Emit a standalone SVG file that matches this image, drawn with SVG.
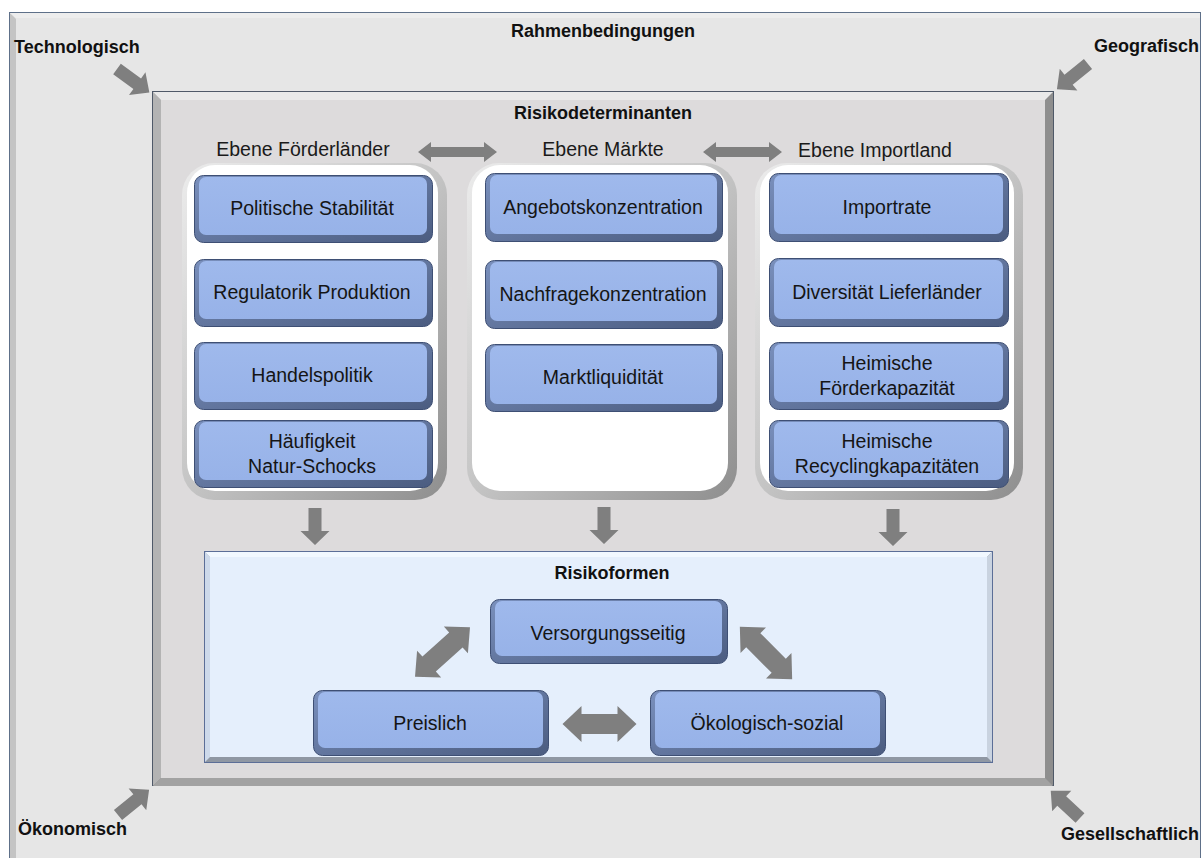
<svg xmlns="http://www.w3.org/2000/svg" width="1202" height="858" viewBox="0 0 1202 858">
  <style>
    .lbl { font-family: "Liberation Sans", Arial, sans-serif; font-size: 18px; font-weight: bold; fill: #111; }
    .lvl { font-family: "Liberation Sans", Arial, sans-serif; font-size: 19.5px; fill: #1a1a1a; text-anchor: middle; }
    .bt { font-family: "Liberation Sans", Arial, sans-serif; font-size: 19.5px; fill: #151515; text-anchor: middle; }
    .arr { fill: #7f7f7f; }
    .bbase { fill: url(#bbaseG); stroke: #3e4f74; stroke-width: 1; }
    .bface { fill: url(#bfaceG); }
    .crim { fill: url(#crimG); }
    .cface { fill: #ffffff; }
  </style>
  <defs>
    <linearGradient id="bbaseG" x1="0" y1="0" x2="1" y2="1">
      <stop offset="0" stop-color="#7a90bd"/>
      <stop offset="1" stop-color="#4b5c80"/>
    </linearGradient>
    <linearGradient id="bfaceG" x1="0" y1="0" x2="0" y2="1">
      <stop offset="0" stop-color="#9fb9ec"/>
      <stop offset="1" stop-color="#97b2e8"/>
    </linearGradient>
    <linearGradient id="crimG" x1="0" y1="0" x2="1" y2="1">
      <stop offset="0" stop-color="#ececec"/>
      <stop offset="0.5" stop-color="#c4c4c4"/>
      <stop offset="1" stop-color="#8e8e8e"/>
    </linearGradient>
  </defs>

  <!-- Outer frame: Rahmenbedingungen -->
  <g id="rahmen">
    <rect x="9.5" y="12.5" width="1191" height="860" fill="#e6e6e6" stroke="#5e7089" stroke-width="1"/>
    <polygon points="10,13 16,19 16,858 10,858" fill="#c4c4c4"/>
    <polygon points="10,13 1200,13 1200,18 16,18" fill="#ededed"/>
    <text class="lbl" x="603" y="37" text-anchor="middle">Rahmenbedingungen</text>
    <text class="lbl" x="14" y="53">Technologisch</text>
    <text class="lbl" x="1199" y="52" text-anchor="end">Geografisch</text>
    <text class="lbl" x="18" y="835">Ökonomisch</text>
    <text class="lbl" x="1199" y="840" text-anchor="end">Gesellschaftlich</text>
  </g>

  <!-- Inner frame: Risikodeterminanten -->
  <g id="risikodeterminanten">
    <rect x="152.5" y="91.5" width="901" height="694" fill="#8e8e8e" stroke="#4f5968" stroke-width="1"/>
    <polygon points="153,92 161,100 161,778 153,786" fill="#b3b3b3"/>
    <polygon points="153,92 1053,92 1045,100 161,100" fill="#e9e9e9"/>
    <polygon points="153,786 161,778 1045,778 1053,786" fill="#a2a2a2"/>
    <rect x="161" y="100" width="884" height="678" fill="#dddbdc"/>
    <text class="lbl" x="603" y="119" text-anchor="middle">Risikodeterminanten</text>
  </g>

  <!-- Column containers -->
  <g id="ebene-foerderlaender">
    <rect class="crim" x="182" y="163" width="265" height="337" rx="32"/>
    <rect class="cface" x="187" y="165" width="251" height="326" rx="28"/>
    <text class="lvl" x="303" y="156">Ebene Förderländer</text>
  </g>
  <g id="ebene-maerkte">
    <rect class="crim" x="467" y="163" width="270" height="337" rx="32"/>
    <rect class="cface" x="472" y="165" width="256" height="326" rx="28"/>
    <text class="lvl" x="603" y="156">Ebene Märkte</text>
  </g>
  <g id="ebene-importland">
    <rect class="crim" x="755" y="163" width="268" height="337" rx="32"/>
    <rect class="cface" x="760" y="165" width="254" height="326" rx="28"/>
    <text class="lvl" x="875" y="157">Ebene Importland</text>
  </g>

  <!-- Left column boxes -->
  <g id="politische-stabilitaet">
    <rect class="bbase" x="194.5" y="175.5" width="238" height="67" rx="9"/>
    <rect class="bface" x="199" y="177" width="228" height="58" rx="7"/>
    <text class="bt" x="312" y="215">Politische Stabilität</text>
  </g>
  <g id="regulatorik-produktion">
    <rect class="bbase" x="194.5" y="259.5" width="238" height="67" rx="9"/>
    <rect class="bface" x="199" y="261" width="228" height="58" rx="7"/>
    <text class="bt" x="312" y="299">Regulatorik Produktion</text>
  </g>
  <g id="handelspolitik">
    <rect class="bbase" x="194.5" y="342.5" width="238" height="67" rx="9"/>
    <rect class="bface" x="199" y="344" width="228" height="58" rx="7"/>
    <text class="bt" x="312" y="382">Handelspolitik</text>
  </g>
  <g id="haeufigkeit-natur-schocks">
    <rect class="bbase" x="194.5" y="420.5" width="238" height="67" rx="9"/>
    <rect class="bface" x="199" y="422" width="228" height="58" rx="7"/>
    <text class="bt" x="312" y="448">Häufigkeit</text>
    <text class="bt" x="312" y="473">Natur-Schocks</text>
  </g>

  <!-- Middle column boxes -->
  <g id="angebotskonzentration">
    <rect class="bbase" x="485.5" y="173.5" width="237" height="68" rx="9"/>
    <rect class="bface" x="490" y="175" width="227" height="59" rx="7"/>
    <text class="bt" x="603" y="214">Angebotskonzentration</text>
  </g>
  <g id="nachfragekonzentration">
    <rect class="bbase" x="485.5" y="260.5" width="237" height="68" rx="9"/>
    <rect class="bface" x="490" y="262" width="227" height="59" rx="7"/>
    <text class="bt" x="603" y="301">Nachfragekonzentration</text>
  </g>
  <g id="marktliquiditaet">
    <rect class="bbase" x="485.5" y="344.5" width="237" height="67" rx="9"/>
    <rect class="bface" x="490" y="346" width="227" height="58" rx="7"/>
    <text class="bt" x="603" y="384">Marktliquidität</text>
  </g>

  <!-- Right column boxes -->
  <g id="importrate">
    <rect class="bbase" x="769.5" y="173.5" width="239" height="68" rx="9"/>
    <rect class="bface" x="774" y="175" width="229" height="59" rx="7"/>
    <text class="bt" x="887" y="214">Importrate</text>
  </g>
  <g id="diversitaet-lieferlaender">
    <rect class="bbase" x="769.5" y="258.5" width="239" height="68" rx="9"/>
    <rect class="bface" x="774" y="260" width="229" height="59" rx="7"/>
    <text class="bt" x="887" y="299">Diversität Lieferländer</text>
  </g>
  <g id="heimische-foerderkapazitaet">
    <rect class="bbase" x="769.5" y="342.5" width="239" height="67" rx="9"/>
    <rect class="bface" x="774" y="344" width="229" height="58" rx="7"/>
    <text class="bt" x="887" y="370">Heimische</text>
    <text class="bt" x="887" y="395">Förderkapazität</text>
  </g>
  <g id="heimische-recyclingkapazitaeten">
    <rect class="bbase" x="769.5" y="420.5" width="239" height="67" rx="9"/>
    <rect class="bface" x="774" y="422" width="229" height="58" rx="7"/>
    <text class="bt" x="887" y="448">Heimische</text>
    <text class="bt" x="887" y="473">Recyclingkapazitäten</text>
  </g>

  <!-- Risikoformen -->
  <g id="risikoformen">
    <rect x="204.5" y="551.5" width="788" height="211" fill="#8f97a3" stroke="#5b6e97" stroke-width="1"/>
    <polygon points="205,552 210,557 210,757 205,762" fill="#cdd9ea"/>
    <polygon points="205,552 992,552 987,557 210,557" fill="#f1f8ff"/>
    <polygon points="992,552 992,762 987,757 987,557" fill="#c9d3e0"/>
    <rect x="210" y="557" width="777" height="200" fill="#e5effc"/>
    <text class="lbl" x="612" y="579" text-anchor="middle">Risikoformen</text>
  </g>
  <g id="versorgungsseitig">
    <rect class="bbase" x="490.5" y="599.5" width="237" height="64" rx="9"/>
    <rect class="bface" x="495" y="601" width="227" height="55" rx="7"/>
    <text class="bt" x="608" y="640">Versorgungsseitig</text>
  </g>
  <g id="preislich">
    <rect class="bbase" x="313.5" y="690.5" width="235" height="65" rx="9"/>
    <rect class="bface" x="318" y="692" width="225" height="56" rx="7"/>
    <text class="bt" x="430" y="730">Preislich</text>
  </g>
  <g id="oekologisch-sozial">
    <rect class="bbase" x="650.5" y="690.5" width="235" height="65" rx="9"/>
    <rect class="bface" x="655" y="692" width="225" height="56" rx="7"/>
    <text class="bt" x="767" y="730">Ökologisch-sozial</text>
  </g>

  <!-- Connectors -->
  <g id="connectors">
    <polygon class="arr" transform="translate(457.5,152)" points="-39.5,0 -26.5,-10 -26.5,-5 26.5,-5 26.5,-10 39.5,0 26.5,10 26.5,5 -26.5,5 -26.5,10"/>
    <polygon class="arr" transform="translate(742.5,152)" points="-39.5,0 -26.5,-10 -26.5,-5 26.5,-5 26.5,-10 39.5,0 26.5,10 26.5,5 -26.5,5 -26.5,10"/>
    <polygon class="arr" transform="translate(315,508) rotate(90)" points="0,-6.5 23,-6.5 23,-14.5 37,0 23,14.5 23,6.5 0,6.5"/>
    <polygon class="arr" transform="translate(604,507) rotate(90)" points="0,-6.5 23,-6.5 23,-14.5 37,0 23,14.5 23,6.5 0,6.5"/>
    <polygon class="arr" transform="translate(893,509) rotate(90)" points="0,-6.5 23,-6.5 23,-14.5 37,0 23,14.5 23,6.5 0,6.5"/>
    <polygon class="arr" transform="translate(599.5,724)" points="-37,0 -18,-18 -18,-10 18,-10 18,-18 37,0 18,18 18,10 -18,10 -18,18"/>
    <polygon class="arr" transform="translate(442.5,652) rotate(-42)" points="-37,0 -18,-18 -18,-10 18,-10 18,-18 37,0 18,18 18,10 -18,10 -18,18"/>
    <polygon class="arr" transform="translate(766,653) rotate(45)" points="-37,0 -18,-18 -18,-10 18,-10 18,-18 37,0 18,18 18,10 -18,10 -18,18"/>
    <polygon class="arr" transform="translate(117,69) rotate(36)" points="0,-6.5 25,-6.5 25,-14 40,0 25,14 25,6.5 0,6.5"/>
    <polygon class="arr" transform="translate(1088,64) rotate(141)" points="0,-6.5 25,-6.5 25,-14 40,0 25,14 25,6.5 0,6.5"/>
    <polygon class="arr" transform="translate(118,815) rotate(-39)" points="0,-6.5 25,-6.5 25,-14 40,0 25,14 25,6.5 0,6.5"/>
    <polygon class="arr" transform="translate(1080,818) rotate(-137)" points="0,-6.5 25,-6.5 25,-14 40,0 25,14 25,6.5 0,6.5"/>
  </g>
</svg>
